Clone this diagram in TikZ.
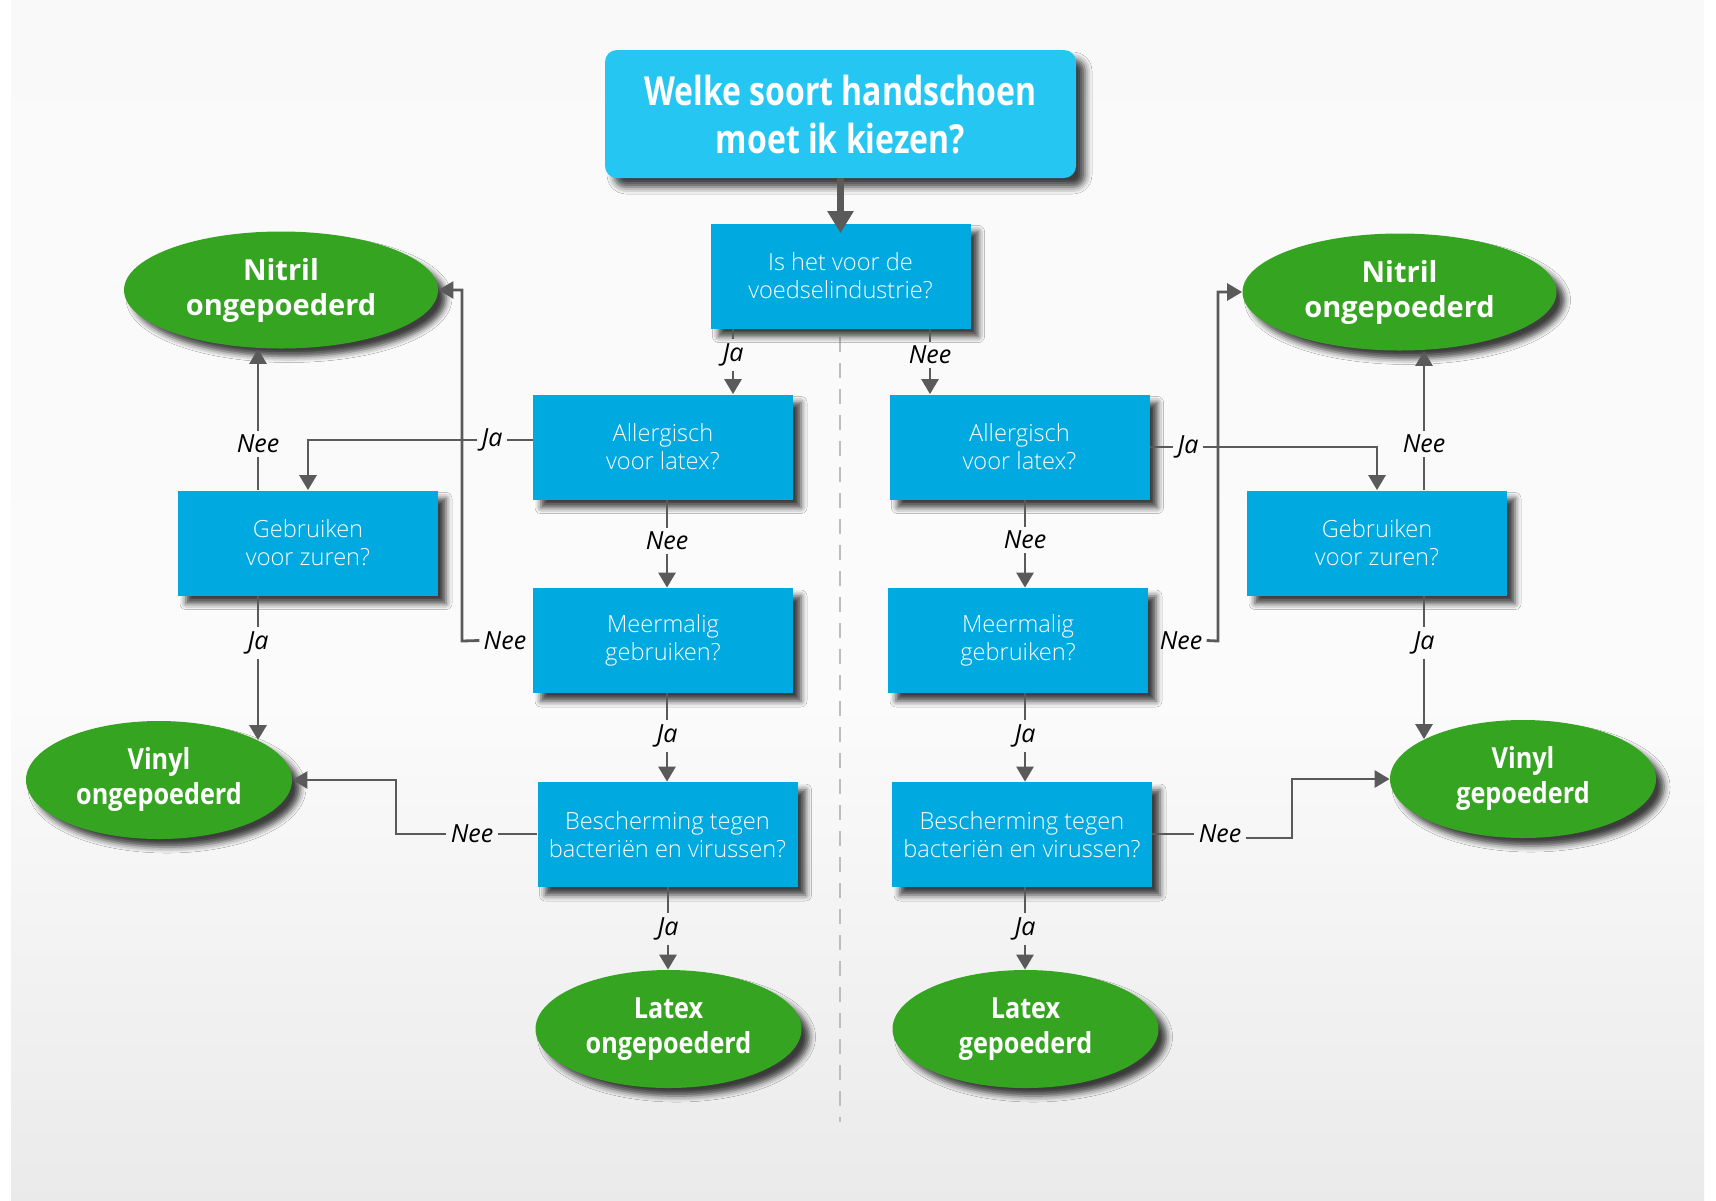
\documentclass[tikz,border=0pt]{standalone}
\usepackage{fontspec}
\setmainfont{Open Sans}
\newfontfamily\lightfont{Open Sans Light}
\usetikzlibrary{shapes.geometric,arrows.meta,shadows.blur}
\definecolor{titlecol}{RGB}{38,198,243}
\definecolor{boxcol}{RGB}{0,169,224}
\definecolor{greencol}{RGB}{53,165,33}
\definecolor{linecol}{RGB}{90,90,90}
\definecolor{dashcol}{RGB}{189,189,189}
\definecolor{bgA}{RGB}{214,214,214}
\definecolor{bgB}{RGB}{251,251,251}
\definecolor{bgC}{RGB}{249,249,249}
\definecolor{bgD}{RGB}{215,215,215}
\pgfdeclareverticalshading{bgshade}{100bp}{color(0bp)=(bgA); color(45.8bp)=(bgB); color(79.2bp)=(bgC); color(100bp)=(bgD)}
\newcommand{\condtxt}[2]{\scalebox{#1}[1]{\begin{tabular}{@{}c@{}}#2\end{tabular}}}
\begin{document}
\begin{tikzpicture}[x=0.5pt,y=-0.5pt,
  shd/.style={blur shadow={shadow xshift=4pt, shadow yshift=-4pt, shadow blur radius=3pt, shadow opacity=75}},
  qbox/.style={rectangle, fill=boxcol, minimum width=130pt, minimum height=52.5pt, inner sep=0pt, text=white, align=center, font=\lightfont\fontsize{11.8}{14}\selectfont, shd},
  res/.style={ellipse, fill=greencol, inner sep=0pt, text=white, align=center, font=\bfseries\fontsize{14.5}{17.5}\selectfont, shd},
  wide/.style={minimum width=157pt, minimum height=58.5pt},
  narrow/.style={minimum width=133pt, minimum height=59pt},
  lbl/.style={inner sep=2pt, font=\itshape\fontsize{12.5}{14}\selectfont, text=black},
  ln/.style={draw=linecol, line width=1.4pt},
  arr/.style={ln, -{Triangle[width=8.5pt,length=7.5pt]}},
  bigarr/.style={draw=linecol, line width=3.5pt, -{Triangle[width=12.5pt,length=11pt]}, shorten >=-5pt}
]
\useasboundingbox (0,0) rectangle (1716,1200);
\fill[white] (0,0) rectangle (1716,1200);
\shade[shading=bgshade] (11,0) rectangle (1704,1200);

% separator
\draw[dashcol, line width=1pt, dash pattern=on 7.5pt off 5.5pt] (840,337) -- (840,1122);

% title and first question
\node[rectangle, rounded corners=6pt, fill=titlecol, minimum width=235.5pt, minimum height=64pt, inner sep=0pt, text=white, font=\bfseries\fontsize{20}{24}\selectfont, blur shadow={shadow xshift=4.5pt, shadow yshift=-4.5pt, shadow blur radius=3.5pt, shadow opacity=75}] (title) at (840.5,114) {\raisebox{-2.75pt}[\height][\depth]{\condtxt{0.8}{Welke soort handschoen\\moet ik kiezen?}}};
\node[qbox] (q0) at (840.5,276) {Is het voor de\\voedselindustrie?};

% left column
\node[qbox] (L1) at (663,447) {Allergisch\\voor latex?};
\node[qbox] (L2) at (663,640.5) {Meermalig\\gebruiken?};
\node[qbox] (L3) at (667.5,834.5) {Bescherming tegen\\bacteriën en virussen?};
\node[res,narrow] (LE) at (668.5,1029) {\condtxt{0.87}{Latex\\ongepoederd}};
\node[qbox] (LG) at (308,543) {Gebruiken\\voor zuren?};
\node[res,wide] (LN) at (281,290) {Nitril\\ongepoederd};
\node[res,narrow] (LV) at (159,780) {\condtxt{0.87}{Vinyl\\ongepoederd}};

% right column
\node[qbox] (R1) at (1019.5,447) {Allergisch\\voor latex?};
\node[qbox] (R2) at (1018,640.5) {Meermalig\\gebruiken?};
\node[qbox] (R3) at (1022,834.5) {Bescherming tegen\\bacteriën en virussen?};
\node[res,narrow] (RE) at (1025.5,1029) {\condtxt{0.87}{Latex\\gepoederd}};
\node[qbox] (RG) at (1377,543) {Gebruiken\\voor zuren?};
\node[res,wide] (RN) at (1399.5,292) {Nitril\\ongepoederd};
\node[res,narrow] (RV) at (1523,779) {\condtxt{0.87}{Vinyl\\gepoederd}};

% labels
\node[lbl] (jq0) at (733,355) {Ja};
\node[lbl] (nq0) at (930,355) {Nee};
\node[lbl] (nL12) at (667,541) {Nee};
\node[lbl] (jL23) at (667,736) {Ja};
\node[lbl] (jL3E) at (668,929) {Ja};
\node[lbl] (nR12) at (1025,540) {Nee};
\node[lbl] (jR23) at (1025,736) {Ja};
\node[lbl] (jR3E) at (1025,929) {Ja};
\node[lbl] (jL1) at (492,440) {Ja};
\node[lbl] (nLG) at (258,444) {Nee};
\node[lbl] (jLG) at (258,643) {Ja};
\node[lbl, anchor=east] (nL2) at ([xshift=-1pt]L2.west) {Nee};
\node[lbl] (nL3) at (472,834) {Nee};
\node[lbl] (jR1) at (1188,447) {Ja};
\node[lbl] (nRG) at (1424,444) {Nee};
\node[lbl] (jRG) at (1424,643) {Ja};
\node[lbl, anchor=west] (nR2) at ([xshift=3.5pt]R2.east) {Nee};
\node[lbl] (nR3) at (1220,834) {Nee};

% connectors
\draw[bigarr] (title.south) -- (q0.north);

\draw[ln] (q0.south -| jq0) -- (jq0.north);
\draw[arr] (jq0.south) -- (jq0 |- L1.north);
\draw[ln] (q0.south -| nq0) -- (nq0.north);
\draw[arr] (nq0.south) -- (nq0 |- R1.north);

\draw[ln] (L1.south -| nL12) -- (nL12.north);
\draw[arr] (nL12.south) -- (nL12 |- L2.north);
\draw[ln] (L2.south -| jL23) -- (jL23.north);
\draw[arr] (jL23.south) -- (jL23 |- L3.north);
\draw[ln] (L3.south -| jL3E) -- (jL3E.north);
\draw[arr] (jL3E.south) -- (jL3E |- LE.north);

\draw[ln] (R1.south -| nR12) -- (nR12.north);
\draw[arr] (nR12.south) -- (nR12 |- R2.north);
\draw[ln] (R2.south -| jR23) -- (jR23.north);
\draw[arr] (jR23.south) -- (jR23 |- R3.north);
\draw[ln] (R3.south -| jR3E) -- (jR3E.north);
\draw[arr] (jR3E.south) -- (jR3E |- RE.north);

% left side branches
\draw[ln] (L1.west |- jL1) -- (jL1.east);
\draw[arr] (jL1.west) -| (LG.north);
\draw[ln] (LG.north -| nLG) -- (nLG.south);
\draw[arr] (nLG.north) -- (nLG |- LN.south);
\draw[ln] (LG.south -| jLG) -- (jLG.north);
\draw[arr] (jLG.south) -- (jLG.south |- LV.22);
\draw[arr] (nL2.west) -- (462,641) |- (LN.east);
\draw[ln] (L3.west |- nL3) -- (nL3.east);
\draw[arr] (nL3.west) -- (396,834) |- (LV.east);

% right side branches
\draw[ln] (R1.east |- jR1) -- (jR1.west);
\draw[arr] (jR1.east) -| (RG.north);
\draw[ln] (RG.north -| nRG) -- (nRG.south);
\draw[arr] (nRG.north) -- (nRG |- RN.south);
\draw[ln] (RG.south -| jRG) -- (jRG.north);
\draw[arr] (jRG.south) -- (jRG.south |- RV.158);
\draw[arr] (nR2.east) -- (1218,641) |- (RN.west);
\draw[ln] (R3.east |- nR3) -- (nR3.west);
\draw[arr] ([yshift=-2pt]nR3.east) -- (1292,838) |- (RV.west);
\end{tikzpicture}
\end{document}
